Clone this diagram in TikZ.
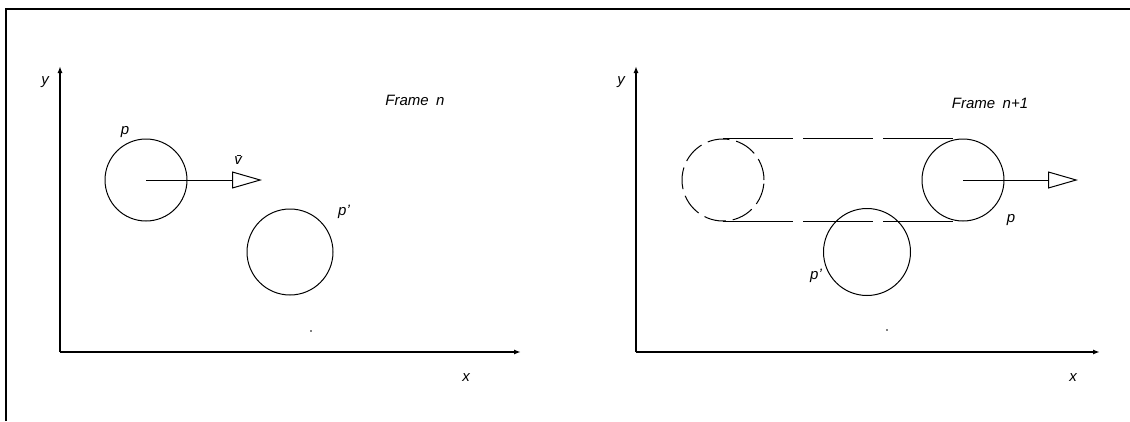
\documentclass[tikz,border=0pt]{standalone}
\usepackage{fontspec}
\setmainfont{Liberation Sans}
\usetikzlibrary{arrows.meta}

\tikzset{
  lbl/.style={font=\itshape\fontsize{15}{17}\selectfont, inner sep=0pt},
  ball/.style={circle, draw, line width=1pt, minimum size=82pt, inner sep=0pt},
  ghost/.style={ball, dash pattern=on 22pt off 7pt},
  trail/.style={line width=1pt, dash pattern=on 70pt off 10pt},
  axis/.style={line width=1.5pt, -{Latex[length=7pt,width=5pt]}},
  vel/.style={line width=1pt, -{Triangle[open,length=30pt,width=17pt]}},
  dot/.style={circle, fill, inner sep=0pt, minimum size=1.6pt},
}

\begin{document}
\begin{tikzpicture}[x=1pt,y=-1pt]
    \useasboundingbox (0,0) rectangle (1130,421);
    % Rahmen
    \draw[line width=2pt] (6,421) -- (6,9) -- (1130,9);

    % Frame n
    \coordinate (o1) at (60,352);
    \coordinate (ya1) at (60,66);
    \coordinate (xa1) at (521,352);
    \draw[axis] (o1) -- (ya1);
    \draw[axis] (o1) -- (xa1);
    \node[lbl] (ly1) at (45,82) {y};
    \node[lbl] (lx1) at (466,378) {x};
    \node[lbl] (fn1) at (415,100) {Frame\enspace n};

    \node[ball] (p1) at (146,180) {};
    \node[lbl] (lp1) at (125,132) {p};
    \coordinate (v1) at (262,180);
    \draw[vel] (p1.center) -- (v1);
    \node[lbl] (lv1) at (238,160) {\=v};

    \node[ball, minimum size=86pt] (q1) at (290,252) {};
    \node[lbl] (lq1) at (344,212) {p'};
    \node[dot] (d1) at (311,331) {};

    % Frame n+1
    \coordinate (o2) at (636,352);
    \coordinate (ya2) at (636,66);
    \coordinate (xa2) at (1100,352);
    \draw[axis] (o2) -- (ya2);
    \draw[axis] (o2) -- (xa2);
    \node[lbl] (ly2) at (621,82) {y};
    \node[lbl] (lx2) at (1073,378) {x};
    \node[lbl] (fn2) at (990,103) {Frame\enspace n+1};

    \node[ghost] (g2) at (723,180) {};
    \node[ball] (p2) at (963,180) {};
    \draw[trail] (g2.north) -- (p2.north);
    \draw[trail] (g2.south) -- (p2.south);
    \node[lbl] (lp2) at (1011,220) {p};
    \coordinate (v2) at (1078,180);
    \draw[vel] (p2.center) -- (v2);

    \node[ball, minimum size=87pt] (q2) at (867,252) {};
    \node[lbl] (lq2) at (816,276) {p'};
    \node[dot] (d2) at (887,330) {};
\end{tikzpicture}
\end{document}
